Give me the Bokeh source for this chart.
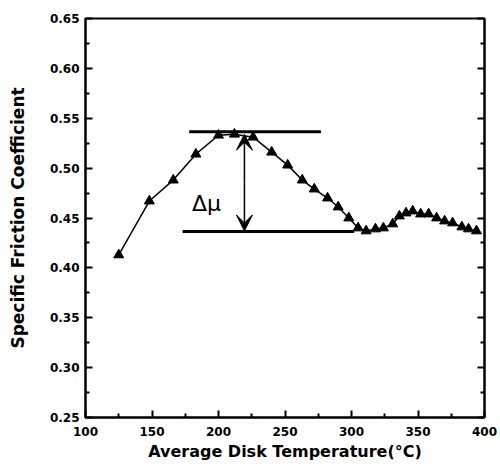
from bokeh.plotting import figure
from bokeh.models import (Range1d, FixedTicker, LinearAxis, NumeralTickFormatter,
                          CustomJSTickFormatter, Arrow, VeeHead)
from bokeh.core.properties import value
from bokeh.embed import file_html
from bokeh.resources import INLINE

# data
temperature = [125, 148, 166, 183, 200, 212, 226, 240, 252, 263, 272, 282, 290, 298,
               305, 311, 318, 324, 331, 336, 341, 346, 352, 358, 364, 370, 376, 383,
               388, 394]
friction = [0.413, 0.467, 0.488, 0.514, 0.533, 0.534, 0.531, 0.516, 0.503, 0.488,
            0.479, 0.470, 0.461, 0.450, 0.440, 0.437, 0.439, 0.440, 0.444, 0.452,
            0.455, 0.457, 0.454, 0.454, 0.450, 0.447, 0.445, 0.441, 0.439, 0.437]

upper_line_x = [178, 277]
upper_line_y = [0.5365, 0.5365]
lower_line_x = [173, 302]
lower_line_y = [0.4365, 0.4365]
arrow_x = 219.5
arrow_top = 0.534
arrow_bottom = 0.437
label_x = 191.0
label_y = 0.4645

x_ticks = [100, 150, 200, 250, 300, 350, 400]
x_minor = [125, 175, 225, 275, 325, 375]
y_ticks = [0.25, 0.30, 0.35, 0.40, 0.45, 0.50, 0.55, 0.60, 0.65]
y_minor = [0.275, 0.325, 0.375, 0.425, 0.475, 0.525, 0.575, 0.625]

FONT = "DejaVu Sans"

p = figure(width=500, height=466, output_backend="svg", toolbar_location=None,
           x_range=Range1d(100, 400), y_range=Range1d(0.25, 0.65),
           min_border_left=85, min_border_right=16, min_border_top=18,
           min_border_bottom=49)
p.xgrid.visible = False
p.ygrid.visible = False
p.outline_line_color = "black"
p.outline_line_width = 2
p.background_fill_color = "white"
p.border_fill_color = "white"


def style_axis(ax, ticks, minor):
    ax.ticker = FixedTicker(ticks=ticks, minor_ticks=minor)
    ax.axis_line_color = "black"
    ax.axis_line_width = 2
    ax.major_tick_line_width = 2
    ax.minor_tick_line_width = 2
    ax.major_tick_in = 7
    ax.major_tick_out = 0
    ax.minor_tick_in = 4
    ax.minor_tick_out = 0
    ax.major_label_text_font = FONT
    ax.major_label_text_font_style = "bold"
    ax.major_label_text_font_size = "12px"
    ax.major_label_text_color = "black"
    ax.axis_label_text_font = FONT
    ax.axis_label_text_font_style = "bold"
    ax.axis_label_text_font_size = "16px"
    ax.axis_label_text_color = "black"


xa = p.xaxis[0]
style_axis(xa, x_ticks, x_minor)
xa.axis_label = "Average Disk Temperature(°C)"
xa.major_label_standoff = 9
xa.axis_label_standoff = 3

ya = p.yaxis[0]
style_axis(ya, y_ticks, y_minor)
ya.axis_label = "Specific Friction Coefficient"
ya.axis_label_text_font_size = "17px"
ya.formatter = NumeralTickFormatter(format="0.00")
ya.major_label_standoff = 6
ya.axis_label_standoff = 19

ra = LinearAxis()
style_axis(ra, y_ticks, y_minor)
ra.formatter = CustomJSTickFormatter(code="return ''")
ra.major_label_standoff = 0
p.add_layout(ra, "right")

# data
p.line(temperature, friction, line_color="black", line_width=1.5)
p.scatter(temperature, friction, marker="triangle", size=10,
          fill_color="black", line_color="black")

# reference lines
p.line(upper_line_x, upper_line_y, line_color="black", line_width=3)
p.line(lower_line_x, lower_line_y, line_color="black", line_width=3)

# double arrow
mid = (arrow_top + arrow_bottom) / 2
p.add_layout(Arrow(x_start=arrow_x, y_start=mid, x_end=arrow_x, y_end=arrow_top,
                   end=VeeHead(size=16, fill_color="black", line_color="black"),
                   line_width=1.5, line_color="black"))
p.add_layout(Arrow(x_start=arrow_x, y_start=mid, x_end=arrow_x, y_end=arrow_bottom,
                   end=VeeHead(size=16, fill_color="black", line_color="black"),
                   line_width=1.5, line_color="black"))

p.text(x=[label_x], y=[label_y], text=["Δμ"], text_font=value(FONT),
       text_font_size="22px", text_align="center", text_baseline="middle",
       text_color="black")

open("out.html", "w").write(file_html(p, INLINE))
